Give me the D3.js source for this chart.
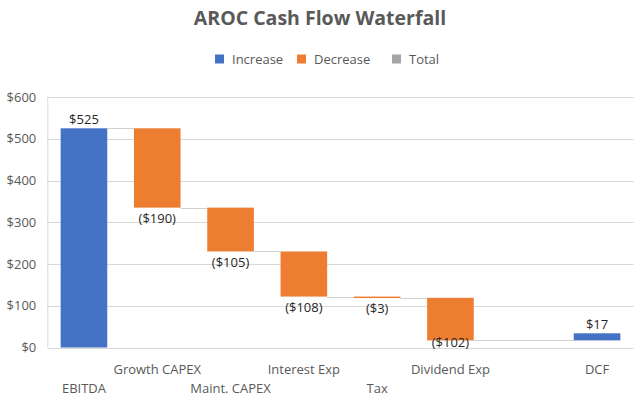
<!DOCTYPE html>
<html><head><meta charset="utf-8">
<script src="https://cdn.jsdelivr.net/npm/d3@7"></script>
<style>body{margin:0;background:#fff;}svg{display:block;font-family:"Open Sans","Segoe UI",sans-serif;}</style>
</head><body><svg id="c" width="640" height="403"></svg>
<script>
const categories = ["EBITDA","Growth CAPEX","Maint. CAPEX","Interest Exp","Tax","Dividend Exp","","DCF"];
const values = [525,-190,-105,-108,-3,-102,null,17];
const labels = ["$525","($190)","($105)","($108)","($3)","($102)","","$17"];
const yTicks = [0,100,200,300,400,500,600];
const legendItems = ["Increase","Decrease","Total"];
const colors = {Increase:"#4472C4",Decrease:"#ED7D31",Total:"#A5A5A5"};

const svg = d3.select("#c");
const m = {l:47.3, r:6.3, t:97, b:55.5};
const W = 640, H = 403;
const x = d3.scaleBand().domain(d3.range(categories.length)).range([m.l, W-m.r]).paddingInner(0.364).paddingOuter(0.182);
const y = d3.scaleLinear().domain([0,600]).range([H-m.b, m.t]);

// gridlines
svg.append("g").selectAll("line").data(yTicks).join("line")
  .attr("x1", m.l).attr("x2", W-m.r)
  .attr("y1", d=>Math.round(y(d))+0.5).attr("y2", d=>Math.round(y(d))+0.5)
  .attr("stroke", "#d9d9d9").attr("stroke-width",1);
// y axis labels
const yAxis = d3.axisLeft(y).tickValues(yTicks).tickFormat(d=>"$"+d).tickSize(0).tickPadding(11);
const ga = svg.append("g").attr("transform",`translate(${m.l},0)`).call(yAxis);
ga.select(".domain").remove();
ga.selectAll("text").attr("fill","#595959").style("font-size","13px").style("font-family","'Open Sans',sans-serif");
// left axis line
svg.append("line").attr("x1",m.l+0.5).attr("x2",m.l+0.5).attr("y1",y(600)).attr("y2",y(0)).attr("stroke","#d9d9d9");

// compute waterfall
let cum = 0;
const bars = [];
values.forEach((v,i)=>{
  if (v===null) return;
  const start = cum, end = cum + v;
  bars.push({i, start, end, v, type: v>=0 ? "Increase":"Decrease", label: labels[i]});
  cum = end;
});

// connectors
for (let k=0;k<bars.length-1;k++){
  const a = bars[k], b = bars[k+1];
  const yy = Math.round(y(a.end))+0.5;
  svg.append("line").attr("x1", x(a.i)+x.bandwidth()).attr("x2", x(b.i))
    .attr("y1", yy).attr("y2", yy).attr("stroke","#d0d0d0").attr("stroke-width",1);
}

// bars
svg.append("g").selectAll("rect").data(bars).join("rect")
  .attr("x", d=>x(d.i)).attr("width", x.bandwidth())
  .attr("y", d=>y(Math.max(d.start,d.end)))
  .attr("height", d=>Math.max(1.5, Math.abs(y(d.start)-y(d.end))))
  .attr("fill", d=>colors[d.type]);

// data labels
svg.append("g").selectAll("text").data(bars).join("text")
  .attr("x", d=>x(d.i)+x.bandwidth()/2)
  .attr("y", d=>{
    if (d.v>=0) return y(d.end)-9;
    return Math.min(y(d.end)+10.5, y(0)-5);
  })
  .attr("dy","0.35em").attr("text-anchor","middle")
  .attr("fill","#262626").style("font-size","13px")
  .text(d=>d.label);

// category labels (staggered)
svg.append("g").selectAll("text").data(categories).join("text")
  .attr("x",(d,i)=>x(i)+x.bandwidth()/2)
  .attr("y",(d,i)=> i%2===1 ? 369 : 388)
  .attr("dy","0.35em").attr("text-anchor","middle")
  .attr("fill","#595959").style("font-size","13px")
  .text(d=>d);

// title
svg.append("text").attr("x",320).attr("y",18).attr("dy","0.35em").attr("text-anchor","middle")
  .attr("fill","#595959").style("font-size","19.5px").style("font-weight","bold")
  .text("AROC Cash Flow Waterfall");

// legend
const lx = [215, 297, 392];
const lg = svg.append("g").selectAll("g").data(legendItems).join("g")
  .attr("transform",(d,i)=>`translate(${lx[i]},59)`);
lg.append("rect").attr("x",0).attr("y",-4.5).attr("width",9).attr("height",9).attr("fill",d=>colors[d]);
lg.append("text").attr("x",17).attr("dy","0.35em").attr("fill","#595959").style("font-size","13px").text(d=>d);
</script></body></html>
